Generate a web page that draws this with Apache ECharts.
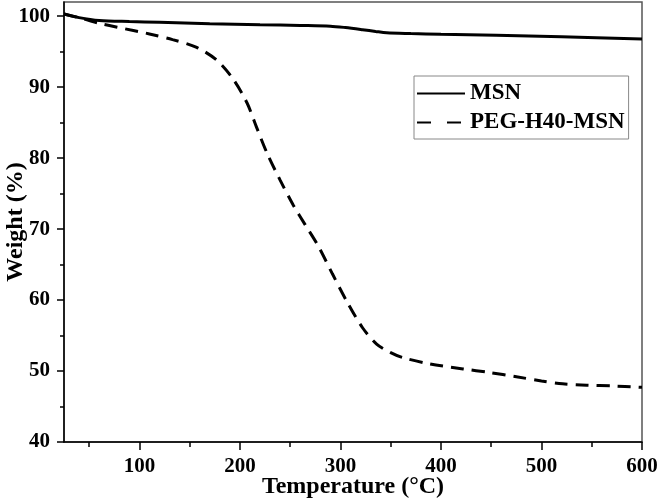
<!DOCTYPE html>
<html>
<head>
<meta charset="utf-8">
<script src="https://cdn.jsdelivr.net/npm/echarts@6/dist/echarts.min.js"></script>
<style>html,body{margin:0;padding:0;background:#fff;}#c{width:661px;height:500px;}</style>
</head>
<body>
<div id="c"></div>
<script>
var tempMSN = [25, 40, 60, 90, 120, 170, 220, 260, 290, 305, 322, 335, 346, 370, 400, 455, 520, 600];
var weightMSN = [100.3, 99.8, 99.4, 99.25, 99.15, 98.95, 98.8, 98.7, 98.6, 98.4, 98.1, 97.85, 97.66, 97.55, 97.45, 97.3, 97.1, 96.8];
var tempPEG = [25, 45, 60, 78, 110, 133, 157, 177, 193, 207, 217, 227, 240, 253, 265, 278, 292, 306, 322, 336, 350, 362, 389, 422, 448, 475, 500, 521, 545, 570, 600];
var weightPEG = [100.3, 99.6, 99.0, 98.45, 97.5, 96.7, 95.6, 93.8, 91.2, 87.8, 84.2, 80.7, 76.9, 73.4, 70.6, 67.6, 63.7, 59.9, 56.1, 53.8, 52.6, 51.9, 51.0, 50.3, 49.8, 49.2, 48.6, 48.2, 48.0, 47.9, 47.7];
var xTicks = [100, 200, 300, 400, 500, 600];
var xMinor = [50, 150, 250, 350, 450, 550];
var yTicks = [40, 50, 60, 70, 80, 90, 100];
var yMinor = [45, 55, 65, 75, 85, 95];
var seriesNames = ['MSN', 'PEG-H40-MSN'];

function pairs(xs, ys) { return xs.map(function (x, i) { return [x, ys[i]]; }); }

var font = 'Liberation Serif';
var chart = echarts.init(document.getElementById('c'));
var tickFont = { fontFamily: font, fontWeight: 'bold', fontSize: 21, color: '#000' };
var nameFont = { fontFamily: font, fontWeight: 'bold', fontSize: 24, color: '#000' };
chart.setOption({
  animation: false,
  grid: { left: 64, right: 19, top: 2, bottom: 58, outerBoundsMode: 'none', containLabel: false,
          show: true, borderColor: '#555', borderWidth: 1.5, backgroundColor: 'transparent' },
  legend: {
    orient: 'vertical', left: 414, top: 76,
    padding: [6, 4, 5, 2], itemGap: 6, itemWidth: 48, itemHeight: 14,
    borderColor: '#888', borderWidth: 1,
    itemStyle: { opacity: 0 },
    textStyle: { fontFamily: font, fontWeight: 'bold', fontSize: 23, color: '#000' },
    data: [
      { name: seriesNames[0] },
      { name: seriesNames[1], lineStyle: { type: [14, 16] } }
    ]
  },
  xAxis: [{
    type: 'value', min: 25, max: 600,
    name: 'Temperature (°C)', nameLocation: 'middle', nameGap: 33, nameMoveOverlap: false,
    nameTextStyle: nameFont,
    axisLine: { onZero: false, lineStyle: { color: '#000', width: 1.5 } },
    axisTick: { show: true, inside: false, length: 8, customValues: xTicks, lineStyle: { color: '#000', width: 1.5 } },
    axisLabel: Object.assign({ customValues: xTicks, margin: 14 }, tickFont),
    splitLine: { show: false }
  }, {
    type: 'value', min: 25, max: 600, position: 'bottom', gridIndex: 0, offset: 0,
    axisLine: { show: false, onZero: false },
    axisTick: { show: true, inside: false, length: 5, customValues: xMinor, lineStyle: { color: '#000', width: 1.5 } },
    axisLabel: { show: false }, splitLine: { show: false }
  }],
  yAxis: [{
    type: 'value', min: 40, max: 102,
    name: 'Weight (%)', nameLocation: 'middle', nameGap: 36, nameMoveOverlap: false,
    nameTextStyle: nameFont,
    axisLine: { show: true, onZero: false, lineStyle: { color: '#000', width: 1.5 } },
    axisTick: { show: true, inside: false, length: 7, customValues: yTicks, lineStyle: { color: '#000', width: 1.5 } },
    axisLabel: Object.assign({ customValues: yTicks, margin: 14 }, tickFont),
    splitLine: { show: false }
  }, {
    type: 'value', min: 40, max: 102, position: 'left', gridIndex: 0, offset: 0,
    axisLine: { show: false, onZero: false },
    axisTick: { show: true, inside: false, length: 4, customValues: yMinor, lineStyle: { color: '#000', width: 1.5 } },
    axisLabel: { show: false }, splitLine: { show: false }
  }],
  series: [{
    name: seriesNames[0], type: 'line', showSymbol: false, symbol: 'none', smooth: 0.3,
    data: pairs(tempMSN, weightMSN),
    lineStyle: { color: '#000', width: 3, type: 'solid' }, itemStyle: { color: '#000' }
  }, {
    name: seriesNames[1], type: 'line', showSymbol: false, symbol: 'none', smooth: 0.3,
    data: pairs(tempPEG, weightPEG),
    lineStyle: { color: '#000', width: 3, type: [13, 8] }, itemStyle: { color: '#000' }
  }]
});
</script>
</body>
</html>
